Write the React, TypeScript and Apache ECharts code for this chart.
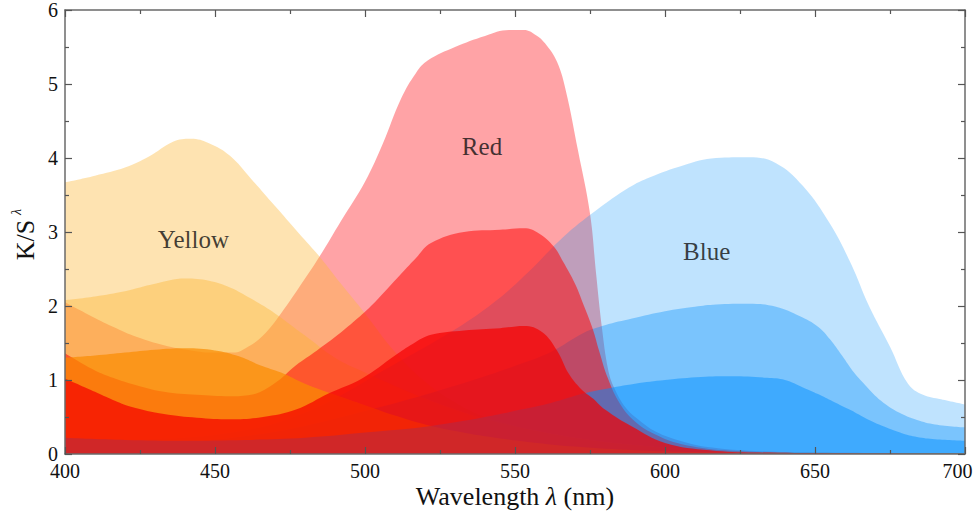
import React, { useEffect, useRef } from "react";
import * as echarts from "echarts";

// ---- data (wavelength nm, K/S) ----
const redTop = [
  [400, 2.05], [408, 1.88], [416, 1.72], [424, 1.58], [433, 1.47], [442, 1.4], [450, 1.37], [456, 1.37],
  [461, 1.45], [466, 1.6], [472, 1.9], [478, 2.25], [485, 2.68], [492, 3.15], [500, 3.68], [506, 4.2],
  [512, 4.8], [517, 5.15], [521, 5.32], [530, 5.5], [540, 5.65], [548, 5.73], [553, 5.73], [557, 5.66],
  [560, 5.55], [564, 5.3], [567, 4.9], [571, 4.1], [575, 3.25], [577, 2.45], [579, 1.7], [581, 1.15],
  [583, 0.9], [587, 0.62], [591, 0.47], [597, 0.3], [605, 0.18], [615, 0.09], [630, 0.04], [650, 0.02], [700, 0.01],
];
const redMid = [
  [400, 1.36], [405, 1.24], [410, 1.13], [416, 1.03], [422, 0.95], [433, 0.84], [444, 0.8], [455, 0.78],
  [462, 0.8], [470, 0.96], [477, 1.2], [484, 1.4], [490, 1.58], [496, 1.78], [502, 2.0], [511, 2.39],
  [517, 2.65], [522, 2.85], [533, 3.0], [545, 3.03], [553, 3.05], [558, 2.98], [563, 2.8], [566, 2.6],
  [570, 2.3], [573, 2.0], [576, 1.68], [578, 1.4], [581, 1.02], [585, 0.68], [590, 0.44], [597, 0.26],
  [605, 0.14], [620, 0.05], [650, 0.01], [700, 0.0],
];
const redLow = [
  [400, 1.02], [405, 0.93], [410, 0.84], [416, 0.73], [422, 0.64], [433, 0.54], [444, 0.49], [455, 0.47],
  [466, 0.5], [477, 0.6], [488, 0.82], [499, 1.02], [510, 1.33], [516, 1.49], [522, 1.61], [533, 1.67],
  [545, 1.7], [553, 1.73], [559, 1.65], [564, 1.4], [568, 1.08], [572, 0.88], [576, 0.75], [580, 0.6],
  [589, 0.37], [600, 0.15], [615, 0.05], [630, 0.02], [700, 0.0],
];
const yellowTop = [
  [400, 3.67], [410, 3.76], [420, 3.87], [428, 4.02], [436, 4.22], [442, 4.26], [448, 4.2], [455, 4.03],
  [462, 3.72], [470, 3.35], [478, 2.98], [485, 2.66], [492, 2.3], [500, 1.9], [510, 1.38], [520, 0.98],
  [530, 0.7], [540, 0.5], [550, 0.38], [560, 0.28], [575, 0.17], [590, 0.1], [610, 0.05], [640, 0.02], [700, 0.01],
];
const yellowMid = [
  [400, 2.08], [410, 2.13], [420, 2.2], [430, 2.3], [440, 2.37], [448, 2.34], [455, 2.25], [462, 2.1],
  [470, 1.9], [480, 1.6], [490, 1.3], [500, 1.1], [510, 0.92], [520, 0.75], [530, 0.6], [540, 0.47],
  [555, 0.33], [570, 0.22], [590, 0.12], [610, 0.06], [640, 0.02], [700, 0.01],
];
const yellowLow = [
  [400, 1.3], [410, 1.33], [420, 1.37], [430, 1.41], [440, 1.43], [450, 1.4], [458, 1.32], [465, 1.2],
  [472, 1.1], [480, 0.95], [490, 0.8], [500, 0.66], [510, 0.52], [520, 0.4], [530, 0.31], [540, 0.24],
  [555, 0.16], [570, 0.1], [590, 0.05], [620, 0.02], [700, 0.01],
];
const blueTop = [
  [400, 0.22], [420, 0.2], [440, 0.22], [460, 0.32], [475, 0.48], [490, 0.75], [505, 1.1], [515, 1.33],
  [522, 1.49], [533, 1.76], [544, 2.08], [555, 2.48], [566, 2.93], [577, 3.29], [588, 3.6], [595, 3.74],
  [606, 3.9], [617, 4.0], [628, 4.01], [637, 3.93], [646, 3.62], [655, 3.11], [662, 2.57], [668, 2.0],
  [675, 1.45], [681, 0.95], [686, 0.8], [692, 0.74], [700, 0.67],
];
const blueMid = [
  [400, 0.22], [420, 0.19], [440, 0.18], [460, 0.24], [480, 0.38], [500, 0.58], [520, 0.8], [540, 1.05],
  [552, 1.22], [562, 1.38], [573, 1.64], [580, 1.74], [589, 1.83], [600, 1.93], [610, 1.99], [617, 2.02],
  [628, 2.03], [637, 1.99], [645, 1.86], [651, 1.72], [655, 1.55], [659, 1.33], [663, 1.1], [667, 0.92],
  [672, 0.72], [678, 0.56], [684, 0.46], [690, 0.4], [700, 0.36],
];
const blueLow = [
  [400, 0.22], [420, 0.19], [440, 0.18], [460, 0.19], [480, 0.22], [500, 0.29], [522, 0.38], [540, 0.5],
  [552, 0.6], [562, 0.69], [573, 0.82], [580, 0.88], [590, 0.95], [600, 1.0], [612, 1.04], [622, 1.05],
  [634, 1.03], [640, 1.0], [646, 0.9], [651, 0.81], [656, 0.71], [662, 0.59], [667, 0.48], [673, 0.37],
  [679, 0.28], [684, 0.23], [690, 0.2], [700, 0.18],
];
const labelPoints = [
  { name: "Yellow", value: [442.8, 2.9] },
  { name: "Red", value: [539, 4.16] },
  { name: "Blue", value: [613.9, 2.73] },
];
const xTicks = { min: 400, max: 700, interval: 50 };
const yTicks = { min: 0, max: 6, interval: 1 };

const FONT = "'Liberation Serif', 'Times New Roman', serif";
const axisColor = "#6a6a6a";

function area(name: string, data: number[][], color: string, opacity: number) {
  return {
    type: "line",
    name,
    data,
    smooth: 0.4,
    symbol: "none",
    silent: true,
    lineStyle: { width: 0, opacity: 0 },
    areaStyle: { color, opacity },
    z: 2,
  };
}

function makeX(position: string, showLabel: boolean) {
  return {
    type: "value",
    position,
    ...xTicks,
    z: 10,
    axisLine: { show: true, onZero: false, lineStyle: { color: axisColor, width: 1.5 } },
    axisTick: { show: true, inside: true, length: 7, lineStyle: { color: "#555", width: 1.2 } },
    minorTick: { show: true, splitNumber: 2, length: 4, lineStyle: { color: "#555", width: 1.2 } },
    splitLine: { show: false },
    axisLabel: {
      show: showLabel,
      fontFamily: FONT,
      fontSize: 20,
      color: "#111",
      margin: 7,
      formatter: (v: number) => (v === xTicks.max ? "{m|" + v + "}" : String(v)),
      rich: { m: { fontFamily: FONT, fontSize: 20, color: "#111", padding: [0, 15, 0, 0] } },
    },
  };
}
function makeY(position: string, showLabel: boolean) {
  return {
    type: "value",
    position,
    ...yTicks,
    z: 10,
    axisLine: { show: true, onZero: false, lineStyle: { color: axisColor, width: 1.5 } },
    axisTick: { show: true, inside: true, length: 7, lineStyle: { color: "#555", width: 1.2 } },
    minorTick: { show: true, splitNumber: 2, length: 4, lineStyle: { color: "#555", width: 1.2 } },
    splitLine: { show: false },
    axisLabel: { show: showLabel, fontFamily: FONT, fontSize: 20, color: "#111", margin: 7 },
  };
}

export default function App() {
  const ref = useRef<HTMLDivElement>(null);
  useEffect(() => {
    document.body.style.margin = "0";
    const chart = echarts.init(ref.current as HTMLDivElement, undefined, { renderer: "svg" });
    chart.setOption({
      animation: false,
      backgroundColor: "#ffffff",
      grid: { left: 65, right: 10, top: 10, bottom: 65, containLabel: false, outerBoundsMode: "none" },
      xAxis: [makeX("bottom", true), makeX("top", false)],
      yAxis: [makeY("left", true), makeY("right", false)],
      series: [
        area("Red 1", redTop, "rgb(255,0,8)", 0.36),
        area("Yellow 1", yellowTop, "rgb(252,185,60)", 0.4),
        area("Blue 1", blueTop, "rgb(0,142,250)", 0.25),
        area("Yellow 2", yellowMid, "rgb(252,180,47)", 0.4),
        area("Blue 2", blueMid, "rgb(0,141,253)", 0.36),
        area("Red 2", redMid, "rgb(255,0,0)", 0.51),
        area("Yellow 3", yellowLow, "rgb(250,140,0)", 0.7),
        area("Blue 3", blueLow, "rgb(0,142,255)", 0.48),
        area("Red 3", redLow, "rgb(245,0,0)", 0.7),
        {
          type: "scatter",
          data: labelPoints,
          symbolSize: 0,
          silent: true,
          z: 5,
          label: {
            show: true,
            position: "inside",
            formatter: "{b}",
            fontFamily: FONT,
            fontSize: 25,
            color: "#111",
          },
        },
      ],
      graphic: [
        {
          type: "group",
          x: 25,
          y: 240,
          rotation: Math.PI / 2,
          children: [
            {
              type: "text",
              x: 0,
              y: 0,
              style: { text: "K/S", fontFamily: FONT, fontSize: 26, fill: "#111", align: "center", verticalAlign: "middle" },
            },
            {
              type: "text",
              x: 28,
              y: -9,
              style: { text: "λ", fontFamily: FONT, fontSize: 14, fontStyle: "italic", fill: "#111", align: "center", verticalAlign: "middle" },
            },
          ],
        },
        {
          type: "text",
          x: 515,
          y: 496,
          style: {
            text: "{n|Wavelength }{i|λ}{n| (nm)}",
            align: "center",
            verticalAlign: "middle",
            rich: {
              n: { fontFamily: FONT, fontSize: 26, fill: "#111" },
              i: { fontFamily: FONT, fontSize: 26, fontStyle: "italic", fill: "#111" },
            },
          },
        },
      ],
    });
    return () => chart.dispose();
  }, []);
  return <div ref={ref} style={{ width: 975, height: 519 }} />;
}
